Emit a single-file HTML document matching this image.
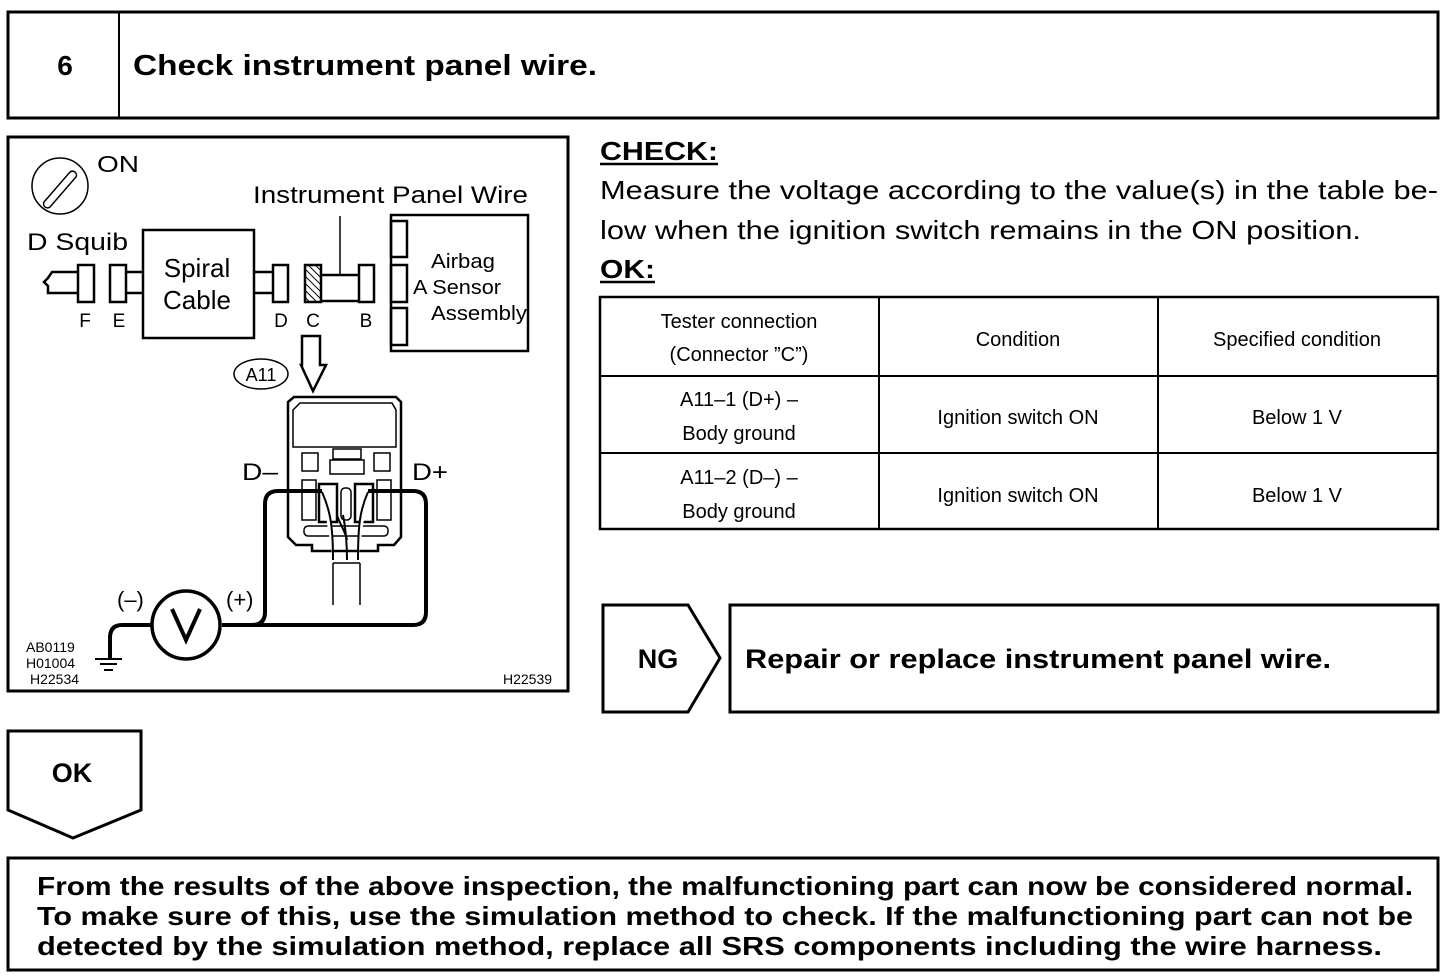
<!DOCTYPE html>
<html><head><meta charset="utf-8"><style>
html,body{margin:0;padding:0;background:#fff}
svg{display:block}
text{font-family:"Liberation Sans",Arial,sans-serif;fill:#000}
.b{font-weight:bold}
</style></head><body>
<svg width="1456" height="980" viewBox="0 0 1456 980" xmlns="http://www.w3.org/2000/svg">
<defs><pattern id="h" width="5" height="5" patternUnits="userSpaceOnUse" patternTransform="rotate(-45)"><line x1="0" y1="0" x2="0" y2="5" stroke="#000" stroke-width="2"/></pattern></defs>
<g fill="none" stroke="#000">
<rect x="8" y="12" width="1430" height="106" stroke-width="3"/>
<line x1="119" y1="12" x2="119" y2="118" stroke-width="2"/>
<rect x="8" y="137" width="560" height="554" stroke-width="3"/>
<circle cx="60" cy="186" r="28" stroke-width="1.5"/>
<path d="M44,202 L70,172 A4,4 0 0 1 76,177 L50,207 A4,4 0 0 1 44,202Z" stroke-width="1.5"/>
<path d="M78,272 H52 L48,278 L44,282 L48,286 V293 H78" stroke-width="2.5"/>
<rect x="78" y="265" width="16" height="37" stroke-width="2.5"/>
<rect x="110" y="265" width="16" height="37" stroke-width="2.5"/>
<line x1="126" y1="272" x2="143" y2="272" stroke-width="2.5"/>
<line x1="126" y1="293" x2="143" y2="293" stroke-width="2.5"/>
<rect x="143" y="230" width="111" height="108" stroke-width="2.5"/>
<line x1="254" y1="272" x2="273" y2="272" stroke-width="2.5"/>
<line x1="254" y1="293" x2="273" y2="293" stroke-width="2.5"/>
<rect x="273" y="265" width="15" height="37" stroke-width="2.5"/>
<rect x="305" y="265" width="16" height="37" stroke-width="2.5" fill="url(#h)"/>
<line x1="321" y1="275" x2="359" y2="275" stroke-width="2.5"/>
<line x1="321" y1="301" x2="359" y2="301" stroke-width="2.5"/>
<line x1="340" y1="216" x2="340" y2="275" stroke-width="1.5"/>
<rect x="359" y="265" width="15" height="37" stroke-width="2.5"/>
<rect x="391" y="215" width="137" height="136" stroke-width="2.5"/>
<rect x="391" y="221" width="16" height="36" stroke-width="2.5"/>
<rect x="391" y="265" width="16" height="37" stroke-width="2.5"/>
<rect x="391" y="308" width="16" height="37" stroke-width="2.5"/>
<path d="M302,336 H320 V365 H326 L313,391 L301,365 H302Z" stroke-width="2.5"/>
<ellipse cx="261" cy="374" rx="27" ry="15" stroke-width="1.5"/>
<path d="M294,397 H396 L401,402 V537 L394,545 H378 V551 H312 V545 H296 L288,537 V402Z" stroke-width="2.5"/>
<path d="M300,403 H392 L396,410 V447 H293 V410Z" stroke-width="1.5"/>
<rect x="302" y="453" width="16" height="18" stroke-width="1.5"/>
<rect x="374" y="453" width="16" height="18" stroke-width="1.5"/>
<rect x="333" y="449" width="28" height="10" stroke-width="1.5"/>
<rect x="330" y="460" width="34" height="14" stroke-width="1.5"/>
<rect x="302" y="480" width="14" height="40" stroke-width="1.5"/>
<rect x="377" y="480" width="14" height="40" stroke-width="1.5"/>
<rect x="319" y="484" width="18" height="38" stroke-width="2.5"/>
<rect x="355" y="484" width="18" height="38" stroke-width="2.5"/>
<rect x="341" y="488" width="10" height="32" rx="4" stroke-width="1.5"/>
<rect x="304" y="526" width="84" height="10" rx="4" stroke-width="1.5"/>
<path d="M322,492 C330,510 333,525 333,560 M343,515 C345,525 347,540 347,560 M368,492 C360,510 358,525 358,560 M337,515 C340,525 345,530 347,540" stroke-width="2" fill="#fff"/>
<path d="M333,563 V605 M360,563 V605 M333,563 H360" stroke-width="1.5"/>
<path d="M322,491 H278 Q265,491 265,504 V612 Q265,625 252,625 H222" stroke-width="4"/>
<path d="M368,491 H413 Q426,491 426,504 V612 Q426,625 413,625 H222" stroke-width="4"/>
<path d="M151,625 H122 Q110,625 110,638 V660" stroke-width="4"/>
<circle cx="186" cy="625" r="34" stroke-width="3.5" fill="#fff"/>
<path d="M172,609 L186,640 L200,609" stroke-width="4"/>
<line x1="95" y1="659" x2="122" y2="659" stroke-width="2"/>
<line x1="100" y1="664" x2="117" y2="664" stroke-width="2"/>
<line x1="104" y1="670" x2="113" y2="670" stroke-width="2"/>
<rect x="600" y="297" width="838" height="232" stroke-width="2.5"/>
<line x1="600" y1="376" x2="1438" y2="376" stroke-width="2"/>
<line x1="600" y1="453" x2="1438" y2="453" stroke-width="2"/>
<line x1="879" y1="297" x2="879" y2="529" stroke-width="2"/>
<line x1="1158" y1="297" x2="1158" y2="529" stroke-width="2"/>
<path d="M603,605 H688 L720,658 L688,712 H603Z" stroke-width="3"/>
<rect x="730" y="605" width="708" height="107" stroke-width="3"/>
<path d="M8,731 H141 V810 L73,838 L8,810Z" stroke-width="3"/>
<rect x="8" y="858" width="1430" height="112" stroke-width="3"/>
<line x1="600" y1="164" x2="718" y2="164" stroke-width="2.5"/>
<line x1="600" y1="282" x2="655" y2="282" stroke-width="2.5"/>
</g>
<text x="65" y="75" font-size="28" class="b" text-anchor="middle">6</text>
<text x="133" y="75" font-size="29" class="b" textLength="464" lengthAdjust="spacingAndGlyphs">Check instrument panel wire.</text>
<text x="97" y="172" font-size="23" textLength="42" lengthAdjust="spacingAndGlyphs">ON</text>
<text x="253" y="203" font-size="24" textLength="275" lengthAdjust="spacingAndGlyphs">Instrument Panel Wire</text>
<text x="27" y="250" font-size="24" textLength="101" lengthAdjust="spacingAndGlyphs">D Squib</text>
<text x="197" y="277" font-size="26" text-anchor="middle">Spiral</text>
<text x="197" y="309" font-size="26" text-anchor="middle">Cable</text>
<g font-size="19" text-anchor="middle">
<text x="85" y="327">F</text><text x="119" y="327">E</text><text x="281" y="327">D</text><text x="313" y="327">C</text><text x="366" y="327">B</text>
</g>
<text x="431" y="268" font-size="20" textLength="64" lengthAdjust="spacingAndGlyphs">Airbag</text>
<text x="413" y="294" font-size="20" textLength="88" lengthAdjust="spacingAndGlyphs">A Sensor</text>
<text x="431" y="320" font-size="20" textLength="96" lengthAdjust="spacingAndGlyphs">Assembly</text>
<text x="261" y="381" font-size="18" text-anchor="middle">A11</text>
<text x="242" y="480" font-size="24" textLength="36" lengthAdjust="spacingAndGlyphs">D–</text>
<text x="412" y="480" font-size="24" textLength="36" lengthAdjust="spacingAndGlyphs">D+</text>
<text x="117" y="607" font-size="22">(–)</text>
<text x="226" y="607" font-size="22">(+)</text>
<g font-size="14"><text x="26" y="652">AB0119</text><text x="26" y="668">H01004</text><text x="30" y="684">H22534</text><text x="503" y="684">H22539</text></g>
<text x="600" y="160" font-size="26" class="b" textLength="118" lengthAdjust="spacingAndGlyphs">CHECK:</text>
<text x="600" y="199" font-size="26" textLength="838" lengthAdjust="spacingAndGlyphs">Measure the voltage according to the value(s) in the table be-</text>
<text x="600" y="239" font-size="26" textLength="761" lengthAdjust="spacingAndGlyphs">low when the ignition switch remains in the ON position.</text>
<text x="600" y="278" font-size="26" class="b" textLength="55" lengthAdjust="spacingAndGlyphs">OK:</text>
<g font-size="20" text-anchor="middle">
<text x="739" y="328">Tester connection</text><text x="739" y="361">(Connector ”C”)</text>
<text x="1018" y="346">Condition</text><text x="1297" y="346">Specified condition</text>
<text x="739" y="406">A11–1 (D+) –</text><text x="739" y="440">Body ground</text>
<text x="1018" y="424">Ignition switch ON</text><text x="1297" y="424">Below 1 V</text>
<text x="739" y="484">A11–2 (D–) –</text><text x="739" y="518">Body ground</text>
<text x="1018" y="502">Ignition switch ON</text><text x="1297" y="502">Below 1 V</text>
</g>
<text x="658" y="668" font-size="27" class="b" text-anchor="middle">NG</text>
<text x="745" y="668" font-size="27" class="b" textLength="586" lengthAdjust="spacingAndGlyphs">Repair or replace instrument panel wire.</text>
<text x="72" y="782" font-size="27" class="b" text-anchor="middle">OK</text>
<g font-size="26" class="b">
<text x="37" y="895" textLength="1376" lengthAdjust="spacingAndGlyphs">From the results of the above inspection, the malfunctioning part can now be considered normal.</text>
<text x="37" y="925" textLength="1376" lengthAdjust="spacingAndGlyphs">To make sure of this, use the simulation method to check. If the malfunctioning part can not be</text>
<text x="37" y="955" textLength="1345" lengthAdjust="spacingAndGlyphs">detected by the simulation method, replace all SRS components including the wire harness.</text>
</g>
</svg>
</body></html>
